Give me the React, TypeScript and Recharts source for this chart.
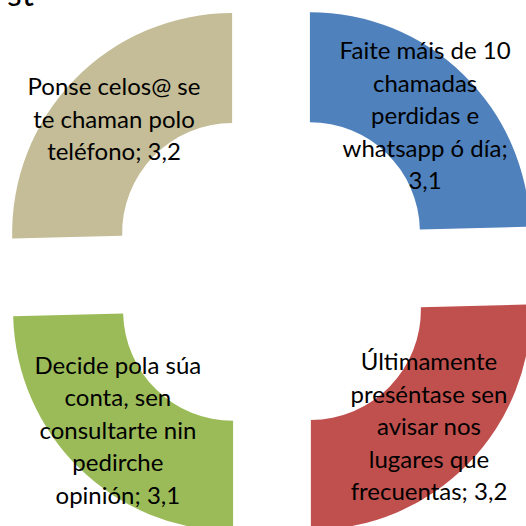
import { PieChart, Pie, Cell, Sector } from "recharts";

// ── Data ──────────────────────────────────────────────────────────────

const categories = [
  "Faite máis de 10 chamadas perdidas e whatsapp ó día",
  "Últimamente preséntase sen avisar nos lugares que frecuentas",
  "Decide pola súa conta, sen consultarte nin pedirche opinión",
  "Ponse celos@ se te chaman polo teléfono",
];
const values = [3.1, 3.2, 3.1, 3.2];
const colors = ["#4F81BD", "#C0504D", "#9BBB59", "#C4BD97"];
// words per label line, as the labels wrap in the original
const lineWordCounts = [
  [4, 1, 2, 3, 1],
  [1, 2, 2, 2, 2],
  [3, 2, 2, 1, 2],
  [3, 3, 2],
];
const titleTail = "st";

const data = categories.map((name, i) => ({ name, value: values[i] }));

// ── Layout ────────────────────────────────────────────────────────────

const SIZE = 526;
const CX = 271.5;
const CY = 271.5;
const OUTER = 220;
const INNER = 110;
const EXPLODE = 55;
const FONT = "Lato, 'Open Sans', sans-serif";
const LINE_H = 32.5;

const fmt = (v: number) => String(v).replace(".", ",");

function offset(midAngle: number, r: number) {
  const rad = (-midAngle * Math.PI) / 180;
  return { dx: r * Math.cos(rad), dy: r * Math.sin(rad) };
}

function renderExploded(props: any) {
  const { cx, cy, midAngle, innerRadius, outerRadius, startAngle, endAngle, fill } = props;
  const { dx, dy } = offset(midAngle, EXPLODE);
  return (
    <Sector
      cx={cx + dx}
      cy={cy + dy}
      innerRadius={innerRadius}
      outerRadius={outerRadius}
      startAngle={startAngle}
      endAngle={endAngle}
      fill={fill}
      stroke="none"
    />
  );
}

function renderLabel(props: any) {
  const { cx, cy, midAngle, innerRadius, outerRadius, index } = props;
  const { dx, dy } = offset(midAngle, EXPLODE + (innerRadius + outerRadius) / 2);
  const words = `${categories[index]}; ${fmt(values[index])}`.split(" ");
  const lines: string[] = [];
  let k = 0;
  for (const n of lineWordCounts[index]) {
    lines.push(words.slice(k, k + n).join(" "));
    k += n;
  }
  const x = cx + dx;
  const y0 = cy + dy - ((lines.length - 1) * LINE_H) / 2;
  return (
    <text
      key={`lbl-${index}`}
      x={x}
      y={y0}
      textAnchor="middle"
      dominantBaseline="central"
      fill="#000"
      style={{ fontFamily: FONT, fontSize: 24 }}
    >
      {lines.map((ln, i) => (
        <tspan key={i} x={x} y={y0 + i * LINE_H} dominantBaseline="central">
          {ln}
        </tspan>
      ))}
    </text>
  );
}

export default function App() {
  return (
    <div style={{ position: "absolute", left: 0, top: 0, width: SIZE, height: SIZE, background: "#FFFFFF", overflow: "hidden" }}>
      <PieChart width={SIZE} height={SIZE} margin={{ top: 0, right: 0, bottom: 0, left: 0 }}>
        <Pie
          data={data}
          dataKey="value"
          nameKey="name"
          cx={CX}
          cy={CY}
          innerRadius={INNER}
          outerRadius={OUTER}
          startAngle={90}
          endAngle={-270}
          stroke="none"
          isAnimationActive={false}
          shape={renderExploded}
          activeShape={renderExploded}
          inactiveShape={renderExploded}
          label={renderLabel}
          labelLine={false}
        >
          {data.map((d, i) => (
            <Cell key={d.name} fill={colors[i]} />
          ))}
        </Pie>
      </PieChart>
      <svg width={SIZE} height={40} style={{ position: "absolute", left: 0, top: 0 }}>
        <text x={34} y={6} textAnchor="end" fill="#000" style={{ fontFamily: FONT, fontSize: 34 }}>
          {titleTail}
        </text>
      </svg>
    </div>
  );
}
